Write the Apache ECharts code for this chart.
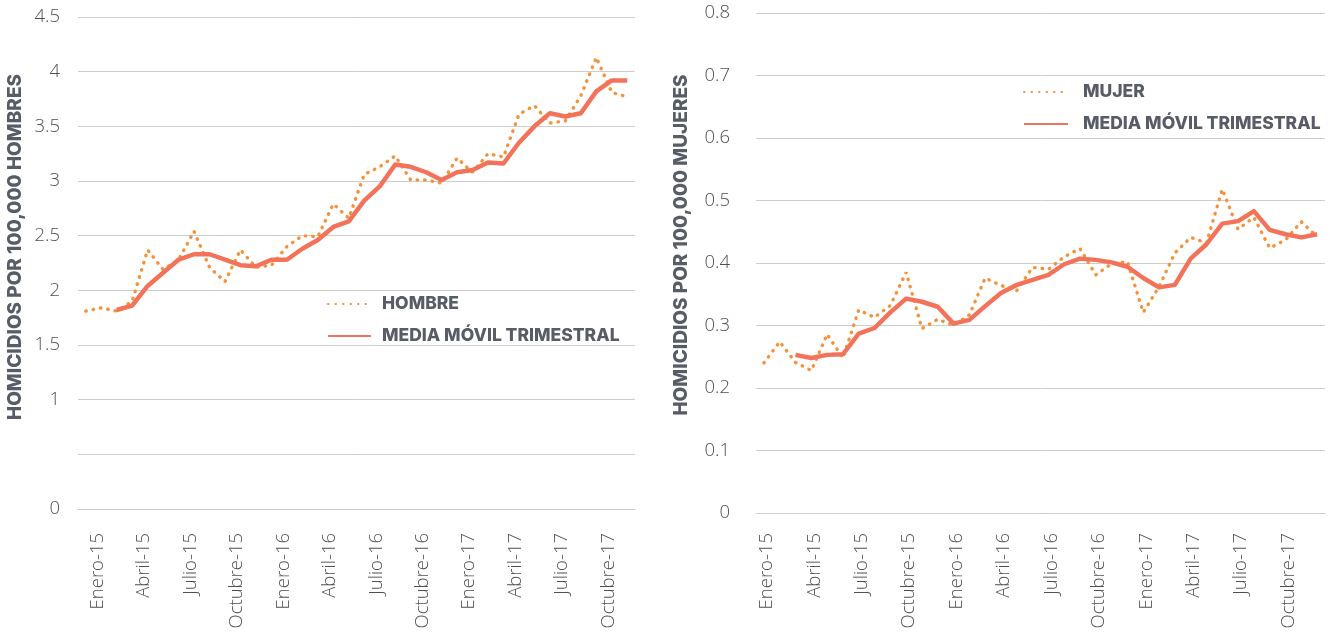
<!DOCTYPE html>
<html>
<head>
<meta charset="utf-8">
<script src="https://cdn.jsdelivr.net/npm/echarts@6/dist/echarts.min.js"></script>
<style>
  html, body { margin: 0; padding: 0; background: #ffffff; }
  #chart { width: 1330px; height: 632px; }
</style>
</head>
<body>
<div id="chart"></div>
<script>
const categories = [
  'Enero-15','Febrero-15','Marzo-15','Abril-15','Mayo-15','Junio-15','Julio-15','Agosto-15','Septiembre-15','Octubre-15','Noviembre-15','Diciembre-15',
  'Enero-16','Febrero-16','Marzo-16','Abril-16','Mayo-16','Junio-16','Julio-16','Agosto-16','Septiembre-16','Octubre-16','Noviembre-16','Diciembre-16',
  'Enero-17','Febrero-17','Marzo-17','Abril-17','Mayo-17','Junio-17','Julio-17','Agosto-17','Septiembre-17','Octubre-17','Noviembre-17','Diciembre-17'
];
const hombre = [1.81,1.84,1.81,1.90,2.37,2.19,2.28,2.54,2.21,2.08,2.37,2.21,2.23,2.40,2.50,2.49,2.79,2.66,3.06,3.13,3.23,3.01,3.01,2.98,3.21,3.08,3.25,3.22,3.61,3.69,3.53,3.55,3.78,4.13,3.81,3.77];
const hombreMedia = [null,null,1.82,1.86,2.04,2.16,2.28,2.33,2.33,2.28,2.23,2.22,2.28,2.28,2.38,2.46,2.58,2.63,2.82,2.95,3.15,3.13,3.08,3.01,3.08,3.10,3.17,3.16,3.35,3.50,3.62,3.59,3.62,3.82,3.92,3.92];
const mujer = [0.240,0.274,0.241,0.228,0.286,0.248,0.325,0.313,0.332,0.385,0.295,0.310,0.300,0.317,0.376,0.364,0.356,0.393,0.390,0.410,0.423,0.381,0.399,0.402,0.321,0.362,0.416,0.441,0.432,0.518,0.454,0.473,0.424,0.437,0.466,0.442];
const mujerMedia = [null,null,0.253,0.248,0.253,0.254,0.287,0.296,0.321,0.343,0.338,0.330,0.303,0.309,0.331,0.352,0.365,0.373,0.381,0.398,0.407,0.405,0.401,0.394,0.376,0.361,0.365,0.407,0.430,0.463,0.467,0.483,0.453,0.446,0.441,0.446];
const leftTitle = 'HOMICIDIOS POR 100,000 HOMBRES';
const rightTitle = 'HOMICIDIOS POR 100,000 MUJERES';
const nameH = 'HOMBRE', nameM = 'MUJER', nameMA = 'MEDIA MÓVIL TRIMESTRAL';

const DOT = '#F4933C', SOLID = '#F3735A', GRID = '#cdcdcd', TICK = '#505050', DARK = '#575c66';
const FONT = '"Open Sans", Roboto, sans-serif';
const BOLD = 'Inter, "Noto Sans", sans-serif';

const chart = echarts.init(document.getElementById('chart'));

function xAxisCfg(gridIndex, lh, margin) {
  return {
    type: 'category', gridIndex, data: categories, boundaryGap: true,
    axisTick: { show: false },
    axisLine: { show: true, lineStyle: { color: GRID, width: 1 } },
    axisLabel: {
      interval: 2, rotate: 90, margin, color: TICK, fontFamily: FONT, fontSize: 18.5, fontWeight: 300,
      verticalAlign: 'top', lineHeight: lh
    }
  };
}
function yAxisCfg(gridIndex, max, interval, margin, fmt) {
  return {
    type: 'value', gridIndex, min: 0, max, interval,
    axisLine: { show: false }, axisTick: { show: false },
    splitLine: { lineStyle: { color: GRID, width: 1 } },
    axisLabel: { margin, color: TICK, fontFamily: FONT, fontSize: 18.5, fontWeight: 300, formatter: fmt }
  };
}
function dotted(name, data, xi) {
  return {
    name, type: 'line', xAxisIndex: xi, yAxisIndex: xi, data, symbol: 'none',
    lineStyle: { color: DOT, width: 3.4, type: [0.5, 7], cap: 'round' },
    itemStyle: { color: DOT }, z: 2
  };
}
function solid(name, data, xi) {
  return {
    name, type: 'line', xAxisIndex: xi, yAxisIndex: xi, data, symbol: 'none',
    lineStyle: { color: SOLID, width: 4.5, join: 'round' },
    itemStyle: { color: SOLID }, z: 3
  };
}
const legendText = { color: DARK, fontFamily: BOLD, fontSize: 17.5, fontWeight: 800, lineHeight: 16 };

chart.setOption({
  animation: false,
  grid: [
    { left: 78, right: 695, top: 17, bottom: 123 },
    { left: 756, right: 5, top: 13, bottom: 119 }
  ],
  xAxis: [xAxisCfg(0, 24, 24), xAxisCfg(1, 6, 20)],
  yAxis: [
    yAxisCfg(0, 4.5, 0.5, 18, v => (v === 0.5 ? '' : String(v))),
    yAxisCfg(1, 0.8, 0.1, 26, v => String(Math.round(v * 10) / 10))
  ],
  legend: [
    {
      left: 327, top: 295, padding: 0, orient: 'vertical', itemWidth: 43, itemHeight: 16, itemGap: 14,
      data: [nameH, nameMA], itemStyle: { opacity: 0 },
      textStyle: Object.assign({ padding: [0, 0, 0, 6] }, legendText)
    },
    {
      left: 1023, top: 83, padding: 0, orient: 'vertical', itemWidth: 44, itemHeight: 16, itemGap: 14,
      data: [nameM, nameMA], itemStyle: { opacity: 0 },
      textStyle: Object.assign({ padding: [0, 0, 0, 10] }, legendText)
    }
  ],
  graphic: [
    { type: 'text', x: 15, y: 247, rotation: Math.PI / 2,
      style: { text: leftTitle, fill: DARK, font: '800 19px ' + BOLD, align: 'center', verticalAlign: 'middle' } },
    { type: 'text', x: 681, y: 245, rotation: Math.PI / 2,
      style: { text: rightTitle, fill: DARK, font: '800 19px ' + BOLD, align: 'center', verticalAlign: 'middle' } }
  ],
  series: [
    dotted(nameH, hombre, 0),
    solid(nameMA, hombreMedia, 0),
    dotted(nameM, mujer, 1),
    solid(nameMA, mujerMedia, 1)
  ]
});
</script>
</body>
</html>
